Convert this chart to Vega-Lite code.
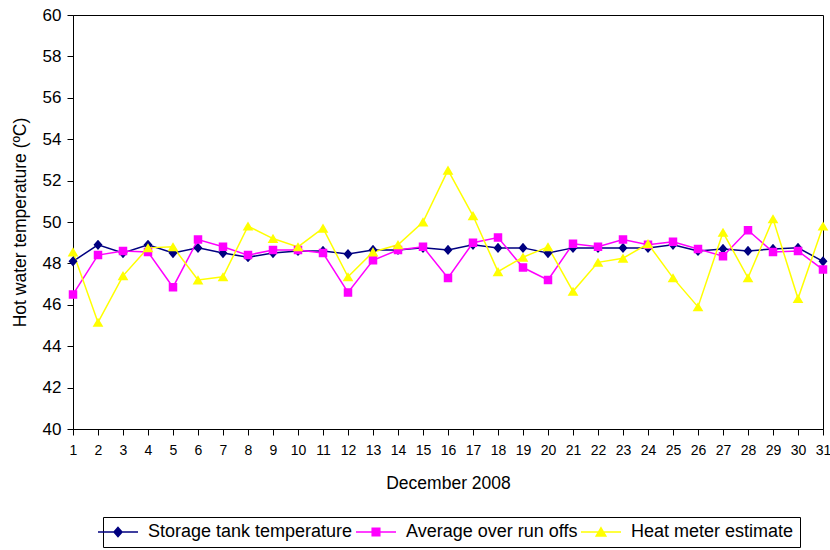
{
  "$schema": "https://vega.github.io/schema/vega-lite/v6.json",
  "width": 750,
  "height": 414,
  "autosize": {"type": "none"},
  "padding": {"left": 73, "top": 15, "right": 7, "bottom": 121},
  "background": "white",
  "config": {
    "font": "Liberation Sans",
    "view": {"stroke": "black", "strokeWidth": 1},
    "axis": {
      "domainColor": "black", "domainWidth": 1, "tickColor": "black", "labelColor": "black",
      "titleColor": "black", "grid": false, "labelFontSize": 17, "titleFontSize": 17.5,
      "titleFontWeight": "normal", "tickSize": 6
    },
    "legend": {"labelFontSize": 18, "labelColor": "black", "labelLimit": 0}
  },
  "datasets": {
    "temps": [
      {"day": 1, "series": "Storage tank temperature", "temp": 48.1},
      {"day": 2, "series": "Storage tank temperature", "temp": 48.9},
      {"day": 3, "series": "Storage tank temperature", "temp": 48.5},
      {"day": 4, "series": "Storage tank temperature", "temp": 48.9},
      {"day": 5, "series": "Storage tank temperature", "temp": 48.5},
      {"day": 6, "series": "Storage tank temperature", "temp": 48.75},
      {"day": 7, "series": "Storage tank temperature", "temp": 48.5},
      {"day": 8, "series": "Storage tank temperature", "temp": 48.3},
      {"day": 9, "series": "Storage tank temperature", "temp": 48.5},
      {"day": 10, "series": "Storage tank temperature", "temp": 48.6},
      {"day": 11, "series": "Storage tank temperature", "temp": 48.6},
      {"day": 12, "series": "Storage tank temperature", "temp": 48.45},
      {"day": 13, "series": "Storage tank temperature", "temp": 48.65},
      {"day": 14, "series": "Storage tank temperature", "temp": 48.65},
      {"day": 15, "series": "Storage tank temperature", "temp": 48.75},
      {"day": 16, "series": "Storage tank temperature", "temp": 48.65},
      {"day": 17, "series": "Storage tank temperature", "temp": 48.9},
      {"day": 18, "series": "Storage tank temperature", "temp": 48.75},
      {"day": 19, "series": "Storage tank temperature", "temp": 48.75},
      {"day": 20, "series": "Storage tank temperature", "temp": 48.5},
      {"day": 21, "series": "Storage tank temperature", "temp": 48.75},
      {"day": 22, "series": "Storage tank temperature", "temp": 48.75},
      {"day": 23, "series": "Storage tank temperature", "temp": 48.75},
      {"day": 24, "series": "Storage tank temperature", "temp": 48.75},
      {"day": 25, "series": "Storage tank temperature", "temp": 48.9},
      {"day": 26, "series": "Storage tank temperature", "temp": 48.6},
      {"day": 27, "series": "Storage tank temperature", "temp": 48.7},
      {"day": 28, "series": "Storage tank temperature", "temp": 48.6},
      {"day": 29, "series": "Storage tank temperature", "temp": 48.7},
      {"day": 30, "series": "Storage tank temperature", "temp": 48.75},
      {"day": 31, "series": "Storage tank temperature", "temp": 48.1},
      {"day": 1, "series": "Average over run offs", "temp": 46.5},
      {"day": 2, "series": "Average over run offs", "temp": 48.4},
      {"day": 3, "series": "Average over run offs", "temp": 48.6},
      {"day": 4, "series": "Average over run offs", "temp": 48.55},
      {"day": 5, "series": "Average over run offs", "temp": 46.85},
      {"day": 6, "series": "Average over run offs", "temp": 49.15},
      {"day": 7, "series": "Average over run offs", "temp": 48.8},
      {"day": 8, "series": "Average over run offs", "temp": 48.4},
      {"day": 9, "series": "Average over run offs", "temp": 48.65},
      {"day": 10, "series": "Average over run offs", "temp": 48.65},
      {"day": 11, "series": "Average over run offs", "temp": 48.5},
      {"day": 12, "series": "Average over run offs", "temp": 46.6},
      {"day": 13, "series": "Average over run offs", "temp": 48.15},
      {"day": 14, "series": "Average over run offs", "temp": 48.65},
      {"day": 15, "series": "Average over run offs", "temp": 48.8},
      {"day": 16, "series": "Average over run offs", "temp": 47.3},
      {"day": 17, "series": "Average over run offs", "temp": 49.0},
      {"day": 18, "series": "Average over run offs", "temp": 49.25},
      {"day": 19, "series": "Average over run offs", "temp": 47.8},
      {"day": 20, "series": "Average over run offs", "temp": 47.2},
      {"day": 21, "series": "Average over run offs", "temp": 48.95},
      {"day": 22, "series": "Average over run offs", "temp": 48.8},
      {"day": 23, "series": "Average over run offs", "temp": 49.15},
      {"day": 24, "series": "Average over run offs", "temp": 48.9},
      {"day": 25, "series": "Average over run offs", "temp": 49.05},
      {"day": 26, "series": "Average over run offs", "temp": 48.7},
      {"day": 27, "series": "Average over run offs", "temp": 48.35},
      {"day": 28, "series": "Average over run offs", "temp": 49.6},
      {"day": 29, "series": "Average over run offs", "temp": 48.55},
      {"day": 30, "series": "Average over run offs", "temp": 48.6},
      {"day": 31, "series": "Average over run offs", "temp": 47.7},
      {"day": 1, "series": "Heat meter estimate", "temp": 48.55},
      {"day": 2, "series": "Heat meter estimate", "temp": 45.15},
      {"day": 3, "series": "Heat meter estimate", "temp": 47.4},
      {"day": 4, "series": "Heat meter estimate", "temp": 48.75},
      {"day": 5, "series": "Heat meter estimate", "temp": 48.8},
      {"day": 6, "series": "Heat meter estimate", "temp": 47.2},
      {"day": 7, "series": "Heat meter estimate", "temp": 47.35},
      {"day": 8, "series": "Heat meter estimate", "temp": 49.8},
      {"day": 9, "series": "Heat meter estimate", "temp": 49.2},
      {"day": 10, "series": "Heat meter estimate", "temp": 48.8},
      {"day": 11, "series": "Heat meter estimate", "temp": 49.7},
      {"day": 12, "series": "Heat meter estimate", "temp": 47.35},
      {"day": 13, "series": "Heat meter estimate", "temp": 48.55},
      {"day": 14, "series": "Heat meter estimate", "temp": 48.9},
      {"day": 15, "series": "Heat meter estimate", "temp": 50.0},
      {"day": 16, "series": "Heat meter estimate", "temp": 52.5},
      {"day": 17, "series": "Heat meter estimate", "temp": 50.3},
      {"day": 18, "series": "Heat meter estimate", "temp": 47.6},
      {"day": 19, "series": "Heat meter estimate", "temp": 48.3},
      {"day": 20, "series": "Heat meter estimate", "temp": 48.8},
      {"day": 21, "series": "Heat meter estimate", "temp": 46.65},
      {"day": 22, "series": "Heat meter estimate", "temp": 48.05},
      {"day": 23, "series": "Heat meter estimate", "temp": 48.25},
      {"day": 24, "series": "Heat meter estimate", "temp": 48.95},
      {"day": 25, "series": "Heat meter estimate", "temp": 47.3},
      {"day": 26, "series": "Heat meter estimate", "temp": 45.9},
      {"day": 27, "series": "Heat meter estimate", "temp": 49.5},
      {"day": 28, "series": "Heat meter estimate", "temp": 47.3},
      {"day": 29, "series": "Heat meter estimate", "temp": 50.15},
      {"day": 30, "series": "Heat meter estimate", "temp": 46.3},
      {"day": 31, "series": "Heat meter estimate", "temp": 49.8}
    ]
  },
  "data": {"name": "temps"},
  "encoding": {
    "x": {
      "field": "day", "type": "quantitative",
      "scale": {"domain": [1, 31], "nice": false, "zero": false},
      "axis": {
        "values": [1,2,3,4,5,6,7,8,9,10,11,12,13,14,15,16,17,18,19,20,21,22,23,24,25,26,27,28,29,30,31],
        "title": "December 2008", "labelFontSize": 14, "labelPadding": 8, "titlePadding": 17, "labelFlush": false
      }
    },
    "y": {
      "field": "temp", "type": "quantitative",
      "scale": {"domain": [40, 60], "zero": false, "nice": false},
      "axis": {
        "values": [40,42,44,46,48,50,52,54,56,58,60],
        "title": "Hot water temperature (ºC)", "labelPadding": 6, "titlePadding": 13
      }
    },
    "color": {
      "field": "series", "type": "nominal",
      "scale": {
        "domain": ["Storage tank temperature", "Average over run offs", "Heat meter estimate"],
        "range": ["#000080", "#FF00FF", "#FFFF00"]
      },
      "legend": {
        "title": null, "orient": "none", "legendX": 30, "legendY": 502,
        "direction": "horizontal", "columns": 3, "strokeColor": "black", "padding": 6,
        "symbolSize": 64, "labelOffset": 21, "columnPadding": 0,
        "encode": {"symbols": {"update": {
          "stroke": {"scale": "color", "field": "value"},
          "fill": {"scale": "color", "field": "value"},
          "strokeWidth": {"value": 1.5}, "opacity": {"value": 1}
        }}}
      }
    }
  },
  "layer": [
    {"mark": {"type": "line", "strokeWidth": 1.5}},
    {
      "mark": {"type": "point", "filled": true, "opacity": 1, "size": 80, "strokeWidth": 0},
      "encoding": {
        "shape": {
          "field": "series", "type": "nominal",
          "scale": {
            "domain": ["Storage tank temperature", "Average over run offs", "Heat meter estimate"],
            "range": ["M-5,0H5M0,-1.15L1,0L0,1.15L-1,0Z", "M-5,0H5M-0.95,-0.95H0.95V0.95H-0.95Z", "M-5,0H5M0,-1.05L1.2,1H-1.2Z"]
          },
          "legend": {
            "title": null, "orient": "none", "legendX": 30, "legendY": 502,
            "direction": "horizontal", "columns": 3, "strokeColor": "black", "padding": 6,
            "symbolSize": 64, "labelOffset": 21, "columnPadding": 0,
            "encode": {"symbols": {"update": {
              "stroke": {"scale": "color", "field": "value"},
              "fill": {"scale": "color", "field": "value"},
              "strokeWidth": {"value": 1.5}, "opacity": {"value": 1}
            }}}
          }
        }
      }
    }
  ]
}
